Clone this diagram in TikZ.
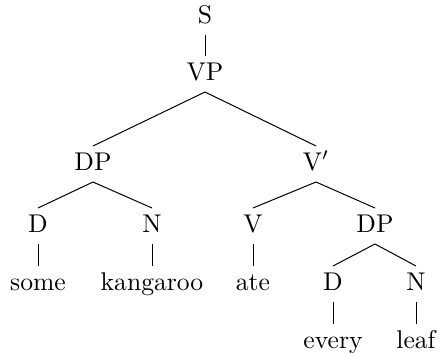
\documentclass[tikz,border=0pt]{standalone}
\begin{document}
\begin{tikzpicture}[x=0.4pt,y=-0.4pt,
  lbl/.style={anchor=base, inner xsep=0pt, inner ysep=2.6pt,
    text height=7pt, text depth=2.2pt, outer sep=0pt,
    font=\fontsize{10.25}{12}\selectfont},
  branch/.style={line width=0.4pt}]
\useasboundingbox (0,0) rectangle (440,353);
% categories
\node[lbl] (S)   at (205,23)  {S};
\node[lbl] (VP)  at (205,80)  {VP};
\node[lbl] (DPa) at (93,170)  {DP};
\node[lbl] (Vb)  at (316,170) {V$'$};
\node[lbl] (Da)  at (38,232)  {D};
\node[lbl] (Na)  at (152,232) {N};
\node[lbl] (V)   at (253,232) {V};
\node[lbl] (DPb) at (375,232) {DP};
\node[lbl] (Db)  at (333,290) {D};
\node[lbl] (Nb)  at (416,290) {N};
% words
\node[lbl] (some)  at (38,290)  {some};
\node[lbl] (kang)  at (152,290) {kangaroo};
\node[lbl] (ate)   at (253,290) {ate};
\node[lbl] (every) at (333,348) {every};
\node[lbl] (leaf)  at (416,348) {leaf};
% branches
\draw[branch] (S.south) -- (VP.north);
\draw[branch] (VP.south) -- (DPa.north);
\draw[branch] (VP.south) -- (Vb.north);
\draw[branch] (DPa.south) -- (Da.north);
\draw[branch] (DPa.south) -- (Na.north);
\draw[branch] (Vb.south) -- (V.north);
\draw[branch] (Vb.south) -- (DPb.north);
\draw[branch] (Da.south) -- (some.north);
\draw[branch] (Na.south) -- (kang.north);
\draw[branch] (V.south) -- (ate.north);
\draw[branch] (DPb.south) -- (Db.north);
\draw[branch] (DPb.south) -- (Nb.north);
\draw[branch] (Db.south) -- (every.north);
\draw[branch] (Nb.south) -- (leaf.north);
\end{tikzpicture}
\end{document}
